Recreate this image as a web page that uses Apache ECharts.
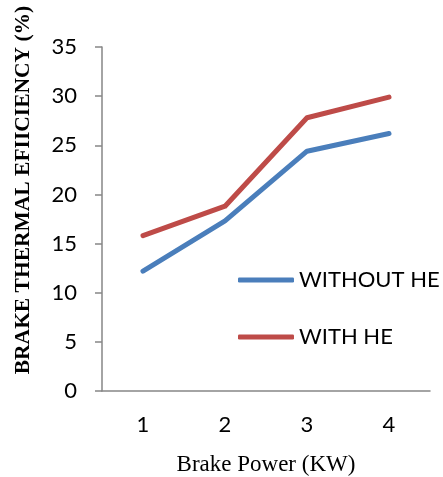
<!DOCTYPE html>
<html>
<head>
<meta charset="utf-8">
<script src="https://cdn.jsdelivr.net/npm/echarts@6/dist/echarts.min.js"></script>
<style>
  html, body { margin: 0; padding: 0; background: #fff; }
  #chart { width: 443px; height: 477px; }
</style>
</head>
<body>
<div id="chart"></div>
<script>
// Brake power levels (kW)
const categories = ['1', '2', '3', '4'];
// Brake thermal efficiency (%) for each configuration
const withoutHE = [12.2, 17.3, 24.4, 26.2];
const withHE = [15.8, 18.8, 27.8, 29.9];
const seriesNames = ['WITHOUT HE', 'WITH HE'];

const axisGray = '#868686';
const labelFont = 'Lato, "Open Sans", sans-serif';
const serifFont = '"Liberation Serif", "Times New Roman", serif';

const chart = echarts.init(document.getElementById('chart'));
chart.setOption({
  animation: false,
  backgroundColor: '#ffffff',
  grid: { left: 102, right: 13, top: 47, bottom: 86, containLabel: false, outerBoundsMode: 'none' },
  legend: {
    orient: 'vertical',
    left: 233,
    top: 264,
    itemWidth: 56,
    itemHeight: 5,
    itemGap: 35,
    icon: 'roundRect',
    textStyle: { fontFamily: labelFont, fontSize: 22, color: '#000' },
    data: seriesNames
  },
  xAxis: {
    type: 'category',
    data: categories,
    boundaryGap: true,
    name: 'Brake Power (KW)',
    nameLocation: 'middle',
    nameGap: 62,
    nameTextStyle: { fontFamily: serifFont, fontSize: 23, color: '#000' },
    axisLine: { lineStyle: { color: axisGray, width: 1.5 } },
    axisTick: { show: false },
    axisLabel: { margin: 23, fontFamily: labelFont, fontSize: 22, color: '#000' }
  },
  yAxis: {
    type: 'value',
    min: 0,
    max: 35,
    interval: 5,
    axisLine: { show: true, lineStyle: { color: axisGray, width: 1.5 } },
    axisTick: { show: true, length: 7, lineStyle: { color: axisGray, width: 1.5 } },
    splitLine: { show: false },
    axisLabel: { margin: 25, fontFamily: labelFont, fontSize: 22, color: '#000' }
  },
  graphic: [{
    type: 'text',
    x: 23,
    y: 190,
    rotation: Math.PI / 2,
    style: {
      text: 'BRAKE THERMAL EFIICIENCY (%)',
      fontFamily: serifFont,
      fontWeight: 'bold',
      fontSize: 21.5,
      fill: '#000',
      align: 'center',
      verticalAlign: 'middle'
    }
  }],
  series: [
    {
      name: seriesNames[0],
      type: 'line',
      data: withoutHE,
      symbol: 'none',
      color: '#4A7EBB',
      lineStyle: { width: 5, cap: 'round', join: 'round' }
    },
    {
      name: seriesNames[1],
      type: 'line',
      data: withHE,
      symbol: 'none',
      color: '#BE4B48',
      lineStyle: { width: 5, cap: 'round', join: 'round' }
    }
  ]
});
</script>
</body>
</html>
